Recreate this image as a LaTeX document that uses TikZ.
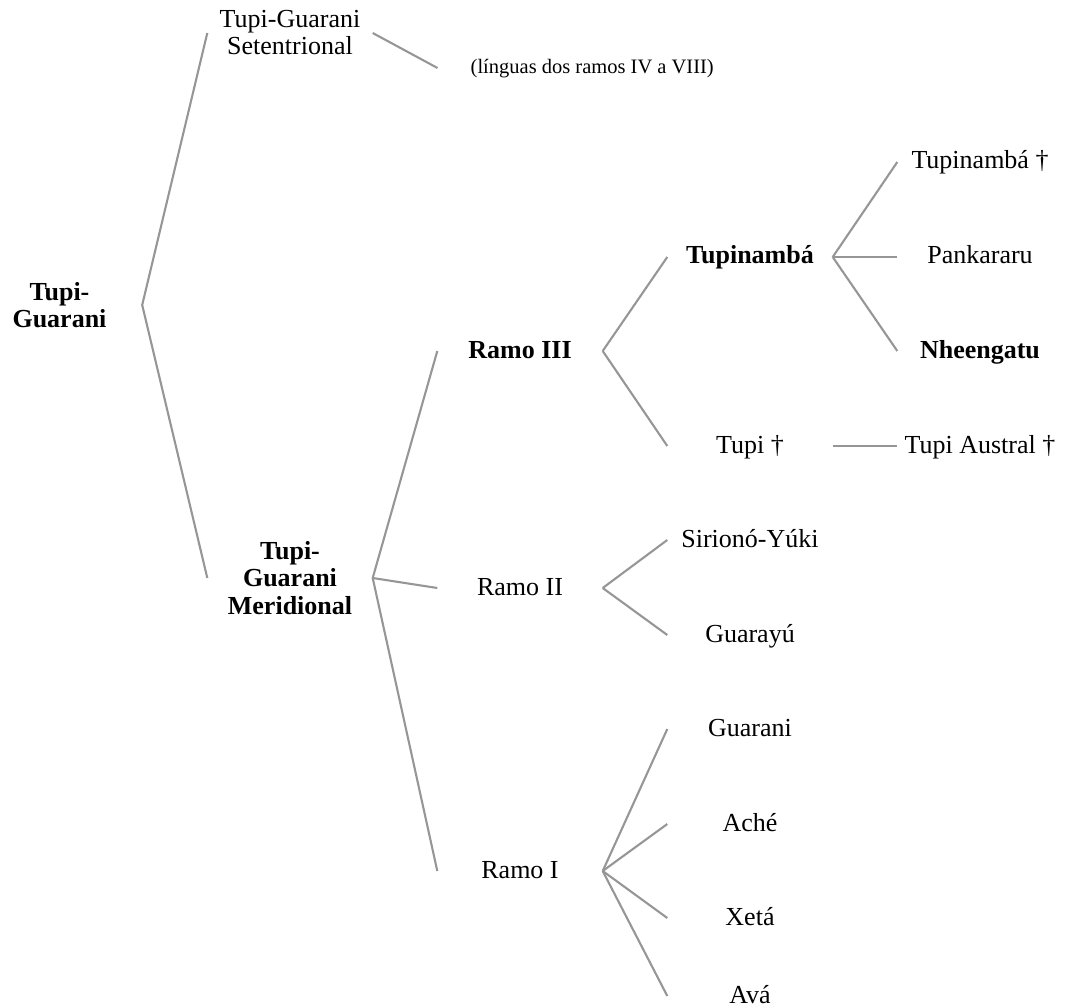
\documentclass[tikz,border=0pt]{standalone}
\usepackage{fontspec}
\setmainfont{Liberation Serif}
\usepackage{xcolor}
\usepackage{tikz}

\definecolor{ramocinza}{RGB}{150,150,150}

\tikzset{
	lingua/.style = {minimum width = 165pt, inner sep = 0pt, text height = 18pt, text depth = 4pt, font = \fontsize{26}{27}\selectfont},
	grupo/.style = {minimum width = 165pt, inner sep = 0pt, align = center, font = \fontsize{26}{27}\selectfont},
	negrito/.append style = {font = \fontsize{26}{27.5}\selectfont\bfseries},
	nota/.style = {anchor = west, inner xsep = 33pt, inner ysep = 0pt, text height = 15pt, text depth = 4pt, font = \fontsize{20.5}{22}\selectfont},
	ramo/.style = {draw = ramocinza, line width = 2.1pt}
}

\begin{document}
\begin{tikzpicture}[x = 1pt, y = -1pt]
		\useasboundingbox (0,0) rectangle (1073,1008);
		
		\begin{scope}
			\node [grupo, negrito] (tupiguarani) at (59.5,305) {Tupi-\\Guarani};
		\end{scope}
		
		\begin{scope}
			\node [grupo] (setentrional) at (290,33) {Tupi-Guarani\\Setentrional};
			\node [grupo, negrito] (meridional) at (290,578) {Tupi-\\Guarani\\Meridional};
		\end{scope}
		
		\begin{scope}
			\node [nota] (ramosIVaVIII) at (437.5,68) {(línguas dos ramos IV a VIII)};
			\node [lingua, negrito] (ramoIII) at (520,351) {Ramo III};
			\node [lingua] (ramoII) at (520,588) {Ramo II};
			\node [lingua] (ramoI) at (520,871) {Ramo I};
		\end{scope}
		
		\begin{scope}
			\node [lingua, negrito] (tupinamba) at (750,257) {Tupinambá};
			\node [lingua] (tupi) at (750,446) {Tupi †};
			\node [lingua] (siriono) at (750,540) {Sirionó-Yúki};
			\node [lingua] (guarayu) at (750,635) {Guarayú};
			\node [lingua] (guarani) at (750,729) {Guarani};
			\node [lingua] (ache) at (750,824) {Aché};
			\node [lingua] (xeta) at (750,918) {Xetá};
			\node [lingua] (ava) at (750,996) {Avá};
		\end{scope}
		
		\begin{scope}
			\node [lingua] (tupinambaantigo) at (980,162) {Tupinambá †};
			\node [lingua] (pankararu) at (980,257) {Pankararu};
			\node [lingua, negrito] (nheengatu) at (980,351) {Nheengatu};
			\node [lingua] (tupiaustral) at (980,446) {Tupi Austral †};
		\end{scope}
		
		\begin{scope}[ramo]
			\draw (tupiguarani.east) -- (setentrional.west);
			\draw (tupiguarani.east) -- (meridional.west);
			\draw (setentrional.east) -- (ramosIVaVIII.west);
			\draw (meridional.east) -- (ramoIII.west);
			\draw (meridional.east) -- (ramoII.west);
			\draw (meridional.east) -- (ramoI.west);
			\draw (ramoIII.east) -- (tupinamba.west);
			\draw (ramoIII.east) -- (tupi.west);
			\draw (tupinamba.east) -- (tupinambaantigo.west);
			\draw (tupinamba.east) -- (pankararu.west);
			\draw (tupinamba.east) -- (nheengatu.west);
			\draw (tupi.east) -- (tupiaustral.west);
			\draw (ramoII.east) -- (siriono.west);
			\draw (ramoII.east) -- (guarayu.west);
			\draw (ramoI.east) -- (guarani.west);
			\draw (ramoI.east) -- (ache.west);
			\draw (ramoI.east) -- (xeta.west);
			\draw (ramoI.east) -- (ava.west);
		\end{scope}
	\end{tikzpicture}
\end{document}
